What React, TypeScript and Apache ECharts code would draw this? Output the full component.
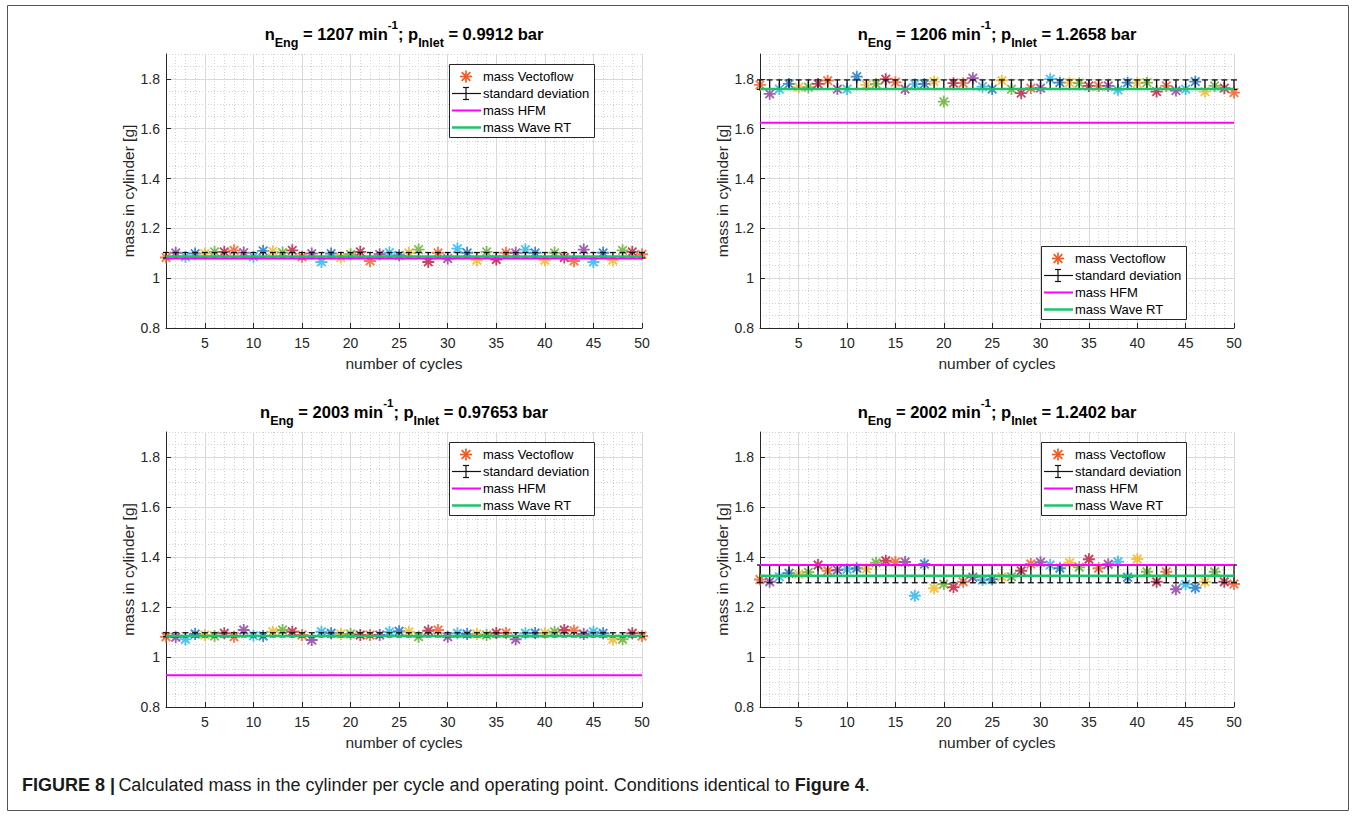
import React, { useEffect, useRef } from 'react';
import * as echarts from 'echarts';

// ---------- data ----------
const cycles = [
  1, 2, 3, 4, 5, 6, 7, 8, 9, 10, 11, 12, 13, 14, 15, 16, 17, 18, 19, 20, 21, 22, 23, 24, 25,
  26, 27, 28, 29, 30, 31, 32, 33, 34, 35, 36, 37, 38, 39, 40, 41, 42, 43, 44, 45, 46, 47, 48, 49, 50,
];
const xTicks = [5, 10, 15, 20, 25, 30, 35, 40, 45, 50];
const yTicks = [0.8, 1, 1.2, 1.4, 1.6, 1.8];

const massVectoflow1 = [
  1.083, 1.102, 1.086, 1.099, 1.099, 1.106, 1.106, 1.112, 1.103, 1.086,
  1.110, 1.108, 1.103, 1.112, 1.086, 1.099, 1.065, 1.099, 1.083, 1.096,
  1.106, 1.069, 1.096, 1.103, 1.092, 1.102, 1.115, 1.065, 1.102, 1.079,
  1.119, 1.102, 1.072, 1.106, 1.075, 1.102, 1.102, 1.115, 1.102, 1.072,
  1.102, 1.083, 1.069, 1.115, 1.065, 1.102, 1.072, 1.112, 1.106, 1.096,
];
const massVectoflow2 = [
  1.776, 1.740, 1.759, 1.780, 1.767, 1.767, 1.780, 1.793, 1.759, 1.759,
  1.809, 1.776, 1.780, 1.799, 1.787, 1.759, 1.779, 1.780, 1.789, 1.709,
  1.783, 1.783, 1.803, 1.769, 1.759, 1.793, 1.759, 1.743, 1.763, 1.763,
  1.799, 1.785, 1.785, 1.783, 1.772, 1.772, 1.772, 1.756, 1.785, 1.783,
  1.785, 1.749, 1.772, 1.753, 1.759, 1.789, 1.749, 1.772, 1.763, 1.745,
];
const massVectoflow3 = [
  1.081, 1.079, 1.071, 1.092, 1.088, 1.084, 1.095, 1.081, 1.108, 1.085,
  1.084, 1.101, 1.108, 1.101, 1.088, 1.068, 1.101, 1.095, 1.092, 1.092,
  1.088, 1.088, 1.088, 1.100, 1.103, 1.101, 1.081, 1.105, 1.108, 1.081,
  1.095, 1.092, 1.092, 1.088, 1.096, 1.096, 1.071, 1.095, 1.096, 1.095,
  1.101, 1.108, 1.105, 1.092, 1.101, 1.095, 1.071, 1.071, 1.095, 1.084,
];
const massVectoflow4 = [
  1.310, 1.301, 1.321, 1.335, 1.331, 1.339, 1.368, 1.345, 1.348, 1.351,
  1.355, 1.352, 1.377, 1.385, 1.380, 1.380, 1.245, 1.372, 1.275, 1.292,
  1.279, 1.301, 1.319, 1.308, 1.311, 1.321, 1.321, 1.345, 1.372, 1.379,
  1.368, 1.355, 1.377, 1.359, 1.391, 1.355, 1.371, 1.381, 1.319, 1.392,
  1.341, 1.301, 1.341, 1.271, 1.291, 1.277, 1.301, 1.341, 1.301, 1.292,
];

const massHFM = [1.079, 1.624, 0.927, 1.368];
const massWaveRT = [1.087, 1.759, 1.084, 1.325];
const stdMean = [1.092, 1.777, 1.089, 1.3325];
const stdDev = [0.011, 0.019, 0.008, 0.0355];
const engineSpeeds = ['1207', '1206', '2003', '2002'];
const inletPressures = ['0.9912', '1.2658', '0.97653', '1.2402'];
const seriesNames = ['mass Vectoflow', 'standard deviation', 'mass HFM', 'mass Wave RT'];

// ---------- style / layout ----------
const FONT = '"Liberation Sans", Arial, Helvetica, sans-serif';
const AXIS_COLOR = '#262626';
const MARKER_COLORS = ['#F5581F', '#8A3B9D', '#1EB5EE', '#1170C2', '#F4B41C', '#63AE2D', '#BA173A'];
const HFM_COLOR = '#FF00FF';
const WAVE_COLOR = '#1DC46B';
const ASTERISK = 'path://M0,-10L0,10M-10,0L10,0M-7.07,-7.07L7.07,7.07M-7.07,7.07L7.07,-7.07';

const GRIDS = [
  { left: 166, top: 54, width: 476, height: 274 },
  { left: 760, top: 54, width: 474, height: 274 },
  { left: 166, top: 432, width: 476, height: 275 },
  { left: 760, top: 432, width: 474, height: 275 },
];
const LEGEND_AT_BOTTOM = [false, true, false, false];
const LEG_W = 145;
const LEG_H = 73;

function asteriskLines(cx: number, cy: number, r: number, color: string) {
  const d = r * 0.72;
  const seg = (x1: number, y1: number, x2: number, y2: number) => ({
    type: 'line',
    z: 100,
    shape: { x1, y1, x2, y2 },
    style: { stroke: color, lineWidth: 1.7 },
  });
  return [
    seg(cx, cy - r, cx, cy + r),
    seg(cx - r, cy, cx + r, cy),
    seg(cx - d, cy - d, cx + d, cy + d),
    seg(cx - d, cy + d, cx + d, cy - d),
  ];
}

function legendElements(left: number, top: number) {
  const els: any[] = [];
  els.push({
    type: 'rect',
    z: 99,
    shape: { x: left + 0.5, y: top + 0.5, width: LEG_W, height: LEG_H },
    style: { fill: '#ffffff', stroke: AXIS_COLOR, lineWidth: 1 },
  });
  const x1 = left + 3;
  const x2 = left + 32;
  const xc = left + 17;
  const rows = [0, 1, 2, 3].map((i) => top + 12.5 + 17 * i);
  els.push(...asteriskLines(xc, rows[0], 6, MARKER_COLORS[0]));
  const line = (y: number, color: string, w: number) => ({
    type: 'line',
    z: 100,
    shape: { x1, y1: y, x2, y2: y },
    style: { stroke: color, lineWidth: w },
  });
  els.push(line(rows[1], '#111111', 1.2));
  els.push({ type: 'line', z: 100, shape: { x1: xc, y1: rows[1] - 6, x2: xc, y2: rows[1] + 6 }, style: { stroke: '#111', lineWidth: 1.2 } });
  els.push({ type: 'line', z: 100, shape: { x1: xc - 3, y1: rows[1] - 6, x2: xc + 3, y2: rows[1] - 6 }, style: { stroke: '#111', lineWidth: 1.2 } });
  els.push({ type: 'line', z: 100, shape: { x1: xc - 3, y1: rows[1] + 6, x2: xc + 3, y2: rows[1] + 6 }, style: { stroke: '#111', lineWidth: 1.2 } });
  els.push(line(rows[2], HFM_COLOR, 2));
  els.push(line(rows[3], WAVE_COLOR, 2.5));
  seriesNames.forEach((name, i) => {
    els.push({
      type: 'text',
      z: 100,
      x: left + 34,
      y: rows[i],
      style: {
        text: name,
        fill: '#000',
        fontSize: 13,
        fontFamily: FONT,
        verticalAlign: 'middle',
        align: 'left',
      },
    });
  });
  return els;
}

function titleElement(i: number) {
  const g = GRIDS[i];
  return {
    type: 'text',
    z: 100,
    x: g.left + g.width / 2,
    y: g.top - 20,
    style: {
      text: `{m|n}{sub|Eng}{m| = ${engineSpeeds[i]} min}{sup|-1}{m|; p}{sub|Inlet}{m| = ${inletPressures[i]} bar}`,
      align: 'center',
      verticalAlign: 'middle',
      rich: {
        m: { fontSize: 16.5, fontWeight: 'bold', fontFamily: FONT, lineHeight: 30, fill: '#000', color: '#000' },
        sub: { fontSize: 12.5, fontWeight: 'bold', fontFamily: FONT, lineHeight: 10, verticalAlign: 'bottom', fill: '#000', color: '#000' },
        sup: { fontSize: 11.5, fontWeight: 'bold', fontFamily: FONT, lineHeight: 17, verticalAlign: 'top', fill: '#000', color: '#000' },
      },
    },
  };
}

function buildOption() {
  const allValues = [massVectoflow1, massVectoflow2, massVectoflow3, massVectoflow4];
  const grid: any[] = [];
  const xAxis: any[] = [];
  const yAxis: any[] = [];
  const series: any[] = [];
  const graphic: any[] = [];

  GRIDS.forEach((g, i) => {
    grid.push({ left: g.left, top: g.top, width: g.width, height: g.height, containLabel: false });
    xAxis.push({
      type: 'value',
      gridIndex: i,
      min: 1,
      max: 50,
      position: 'bottom',
      name: 'number of cycles',
      nameLocation: 'middle',
      nameGap: 27,
      nameTextStyle: { fontSize: 15.5, color: AXIS_COLOR, fontFamily: FONT },
      axisLine: { show: true, onZero: false, lineStyle: { color: AXIS_COLOR, width: 1 } },
      axisTick: { show: true, inside: true, length: 5, customValues: xTicks, lineStyle: { color: AXIS_COLOR } },
      axisLabel: { customValues: xTicks, color: AXIS_COLOR, fontSize: 14, margin: 8, fontFamily: FONT },
      splitLine: { show: true, lineStyle: { color: '#dcdcdc', width: 1 } },
    });
    xAxis.push({
      type: 'value',
      gridIndex: i,
      min: 1,
      max: 50,
      interval: 1,
      position: 'bottom',
      axisLine: { show: false },
      axisTick: { show: false },
      axisLabel: { show: false },
      splitLine: { show: true, lineStyle: { color: '#d2d2d2', width: 1, type: [1, 2] } },
    });
    yAxis.push({
      type: 'value',
      gridIndex: i,
      min: 0.8,
      max: 1.9,
      position: 'left',
      name: 'mass in cylinder [g]',
      nameLocation: 'middle',
      nameGap: 28,
      nameTextStyle: { fontSize: 15.5, color: AXIS_COLOR, fontFamily: FONT },
      axisLine: { show: true, onZero: false, lineStyle: { color: AXIS_COLOR, width: 1 } },
      axisTick: { show: true, inside: true, length: 5, customValues: yTicks, lineStyle: { color: AXIS_COLOR } },
      axisLabel: { customValues: yTicks, color: AXIS_COLOR, fontSize: 14, margin: 6, fontFamily: FONT },
      splitLine: { show: true, lineStyle: { color: '#dcdcdc', width: 1 } },
    });
    yAxis.push({
      type: 'value',
      gridIndex: i,
      min: 0.8,
      max: 1.9,
      interval: 0.05,
      position: 'right',
      axisLine: { show: false },
      axisTick: { show: false },
      axisLabel: { show: false },
      splitLine: { show: true, lineStyle: { color: '#d2d2d2', width: 1, type: [1, 2] } },
    });

    const xi = 2 * i;
    const yi = 2 * i;
    series.push({
      name: seriesNames[0],
      type: 'scatter',
      xAxisIndex: xi,
      yAxisIndex: yi,
      symbol: ASTERISK,
      symbolSize: 12,
      z: 2,
      data: allValues[i].map((v, k) => {
        const c = MARKER_COLORS[k % MARKER_COLORS.length];
        return { value: [cycles[k], v], itemStyle: { color: c, borderColor: c, borderWidth: 1.8 } };
      }),
    });
    series.push({
      name: seriesNames[1],
      type: 'custom',
      xAxisIndex: xi,
      yAxisIndex: yi,
      z: 3,
      clip: false,
      encode: { x: 0, y: [1, 2] },
      data: cycles.map((c) => [c, stdMean[i] - stdDev[i], stdMean[i] + stdDev[i]]),
      renderItem: (params: any, api: any) => {
        const x = api.value(0);
        const lo = api.coord([x, api.value(1)]);
        const hi = api.coord([x, api.value(2)]);
        const w = 3;
        const st = { stroke: '#111111', lineWidth: 1.3 };
        return {
          type: 'group',
          children: [
            { type: 'line', shape: { x1: lo[0], y1: lo[1], x2: hi[0], y2: hi[1] }, style: st },
            { type: 'line', shape: { x1: lo[0] - w, y1: lo[1], x2: lo[0] + w, y2: lo[1] }, style: st },
            { type: 'line', shape: { x1: hi[0] - w, y1: hi[1], x2: hi[0] + w, y2: hi[1] }, style: st },
          ],
        };
      },
    });
    series.push({
      name: seriesNames[2],
      type: 'line',
      xAxisIndex: xi,
      yAxisIndex: yi,
      z: 4,
      symbol: 'none',
      lineStyle: { color: HFM_COLOR, width: 2 },
      data: [[cycles[0], massHFM[i]], [cycles[cycles.length - 1], massHFM[i]]],
    });
    series.push({
      name: seriesNames[3],
      type: 'line',
      xAxisIndex: xi,
      yAxisIndex: yi,
      z: 5,
      symbol: 'none',
      lineStyle: { color: WAVE_COLOR, width: 2.5 },
      data: [[cycles[0], massWaveRT[i]], [cycles[cycles.length - 1], massWaveRT[i]]],
    });

    graphic.push(titleElement(i));
    const legLeft = g.left + g.width - 48 - LEG_W;
    const legTop = LEGEND_AT_BOTTOM[i] ? g.top + g.height - 9 - LEG_H : g.top + 10;
    graphic.push(...legendElements(legLeft, legTop));
  });

  graphic.push({
    type: 'rect',
    z: 0,
    silent: true,
    shape: { x: 7.5, y: 5.5, width: 1341, height: 805 },
    style: { fill: 'none', stroke: '#555555', lineWidth: 1 },
  });
  graphic.push({
    type: 'text',
    z: 100,
    x: 22,
    y: 785,
    style: {
      text: '{b|FIGURE 8 |} {n|Calculated mass in the cylinder per cycle and operating point. Conditions identical to }{b|Figure 4}{n|.}',
      verticalAlign: 'middle',
      align: 'left',
      rich: {
        b: { fontSize: 18, fontWeight: 'bold', fontFamily: FONT, fill: '#1a1a1a', color: '#1a1a1a' },
        n: { fontSize: 18, fontFamily: FONT, fill: '#1a1a1a', color: '#1a1a1a' },
      },
    },
  });

  return {
    animation: false,
    backgroundColor: '#ffffff',
    grid,
    xAxis,
    yAxis,
    series,
    graphic: { elements: graphic },
  };
}

export default function App() {
  const ref = useRef<HTMLDivElement>(null);
  useEffect(() => {
    if (!ref.current) return;
    const chart = echarts.init(ref.current, undefined, { renderer: 'svg' });
    chart.setOption(buildOption() as any);
    return () => chart.dispose();
  }, []);
  return (
    <div
      ref={ref}
      style={{ position: 'absolute', left: 0, top: 0, width: 1354, height: 816, background: '#ffffff' }}
    />
  );
}
